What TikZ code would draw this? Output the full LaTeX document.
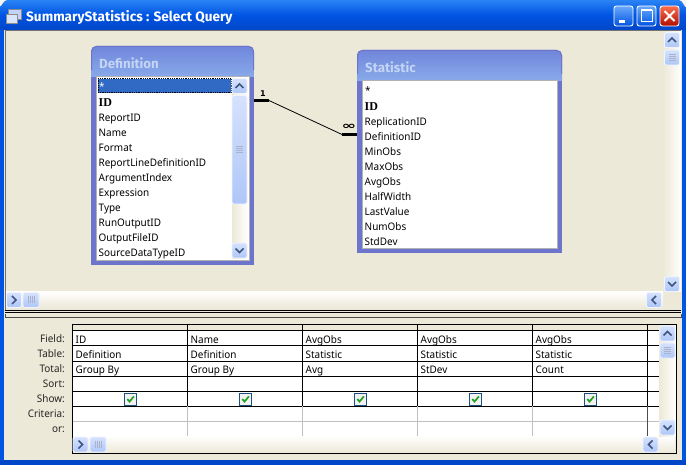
\documentclass[tikz,border=0pt]{standalone}
\usepackage{fontspec}
\setmainfont{Noto Sans}[FakeStretch=0.955]
\newfontfamily\titlefont{Fira Sans}
\newfontfamily\symfont{DejaVu Sans}
\newfontfamily\idfont{Liberation Serif}
\usetikzlibrary{calc}
\definecolor{face}{HTML}{ECE9D8}
\definecolor{xpblue}{HTML}{0054E3}
\definecolor{xpdark}{HTML}{0046C8}
\definecolor{xplight}{HTML}{2A83F5}
\definecolor{tbl}{HTML}{6C74CC}
\definecolor{tbllight}{HTML}{88AAEA}
\definecolor{tblmid}{HTML}{7086DA}
\definecolor{tbltext}{HTML}{C4D4F4}
\definecolor{sel}{HTML}{316AC5}
\definecolor{btnedge}{HTML}{F0F4FF}
\definecolor{btntop}{HTML}{D6E2FD}
\definecolor{btnbot}{HTML}{AEC6F8}
\definecolor{chev}{HTML}{3F5580}
\definecolor{trk}{HTML}{F7F6F1}
\definecolor{gridgray}{HTML}{C0C0C0}
\definecolor{chkbd}{HTML}{1C5180}
\definecolor{chk}{HTML}{21A121}
\tikzset{
  x=1pt,y=-1pt,
  txt/.style={inner sep=0pt,anchor=base west,yshift=-0.8pt,font=\fontsize{10.4}{12}\selectfont,text=black},
  lbl/.style={inner sep=0pt,anchor=base east,yshift=-0.8pt,font=\fontsize{10.4}{12}\selectfont,text=black!85},
  ttl/.style={inner sep=0pt,anchor=base west,yshift=-0.8pt,font=\titlefont\bfseries\fontsize{13.3}{14}\selectfont,text=tbltext},
  idtxt/.style={txt,font=\idfont\bfseries\fontsize{12}{12}\selectfont},
  relthick/.style={line width=2.6pt,black},
  relthin/.style={line width=0.8pt,black},
  card/.style={inner sep=0pt,font=\symfont\bfseries\fontsize{8}{9}\selectfont,text=black},
  gridline/.style={line width=1pt,black},
  softline/.style={line width=1pt,gridgray},
  chevron/.style={line width=1.7pt,chev,line cap=butt,line join=miter},
  btnbox/.style={draw=btnedge,line width=.8pt,rounded corners=1.5pt,top color=btntop,bottom color=btnbot},
}
\newcommand{\sbtn}[3]{%
  \path[btnbox] (#1-7.5,#2-7.5) rectangle (#1+7.5,#2+7.5);
  \draw[chevron,rotate around={#3:(#1,#2)}] (#1-4,#2+2) -- (#1,#2-2) -- (#1+4,#2+2);
}
\newcommand{\sthumbv}[4]{%
  \path[btnbox] (#1-#3,#2-#4) rectangle (#1+#3,#2+#4);
  \foreach \d in {-3,-1,1,3} \draw[line width=.7pt,chev!45!white] (#1-3.5,#2+\d) -- (#1+3.5,#2+\d);
}
\newcommand{\sthumbh}[4]{%
  \path[btnbox] (#1-#3,#2-#4) rectangle (#1+#3,#2+#4);
  \foreach \d in {-3,-1,1,3} \draw[line width=.7pt,chev!45!white] (#1+\d,#2-3.5) -- (#1+\d,#2+3.5);
}
\newcommand{\chkbox}[1]{%
  \path[draw=chkbd,line width=1pt,fill=white!90!gray] (#1-6,393) rectangle (#1+6,405.5);
  \draw[chk,line width=1.7pt] (#1-3.2,399) -- (#1-1,401.6) -- (#1+3.4,396.4);
}
\begin{document}
\begin{tikzpicture}
\useasboundingbox (0,0) rectangle (686,465);
% window frame
\fill[white!92!gray] (0,0) rectangle (686,465);
\path[top color=xplight,bottom color=xpdark,middle color=xpblue] (0,30) -- (0,6) to[out=-90,in=180] (7,0) -- (679,0) to[out=0,in=-90] (686,7) -- (686,30) -- cycle;
\fill[xpblue] (0,30) rectangle (4,465);
\fill[xpblue] (682,30) rectangle (686,465);
\fill[xpdark] (0,460) rectangle (686,465);
\fill[face] (4,30) rectangle (682,460);
\draw[line width=1pt,black!55] (5,31) -- (681,31);
\draw[line width=1pt,black!55] (5,31) -- (5,310);
% title icon
\node[draw=black!45,fill=white!75!xpblue,minimum width=13pt,minimum height=10pt,inner sep=0pt] (icona) at (14.5,14) {};
\node[draw=black!45,fill=white!85!xpblue,minimum width=11pt,minimum height=9pt,inner sep=0pt] (iconb) at (11.5,19) {};
\node[inner sep=0pt,anchor=base west,text=white,font=\titlefont\bfseries\fontsize{13.6}{14}\selectfont] (wintitle) at (26,22) {SummaryStatistics : Select Query};
% window buttons
\node[draw=white,line width=.9pt,rounded corners=2.5pt,minimum width=19pt,minimum height=20pt,inner sep=0pt,top color=xplight!70!white,bottom color=xpblue] (minbtn) at (623.5,16) {};
\fill[white] (619,20) rectangle (625,23);
\node[draw=white,line width=.9pt,rounded corners=2.5pt,minimum width=19pt,minimum height=20pt,inner sep=0pt,top color=xplight!70!white,bottom color=xpblue] (maxbtn) at (646.5,16) {};
\draw[white,line width=1pt] (641,10.5) rectangle (652,21.5);
\draw[white,line width=2pt] (641,10.5) -- (652,10.5);
\node[draw=white,line width=.9pt,rounded corners=2.5pt,minimum width=19pt,minimum height=20pt,inner sep=0pt,top color=red!60!orange!70!white,bottom color=red!65!black!90!orange] (closebtn) at (669.5,16) {};
\draw[white,line width=2pt] (664.5,11) -- (674.5,21) (674.5,11) -- (664.5,21);
% upper pane scrollbars
\path[left color=face,right color=white!96!face] (663,32) rectangle (681,292);
\path[top color=white!96!face,bottom color=face] (6,292) rectangle (663,308);
\sbtn{672}{40}{0}
\sthumbv{672}{57.5}{7.5}{7.5}
\sbtn{672}{284}{180}
\sbtn{14}{300}{-90}
\sthumbh{31}{300}{8}{7.5}
\sbtn{654}{300}{90}
% splitter
\draw[line width=1pt,black] (5,311) -- (681,311);
\draw[line width=1pt,black] (5,313) -- (681,313);
\draw[line width=1pt,black!70] (5,318) -- (681,318);
\draw[line width=1pt,black!70] (5,314) -- (5,318);
\draw[line width=1pt,black!70] (681,314) -- (681,318);
% Definition table
\fill[tbl] (91,70) rectangle (254,265);
\path[top color=tblmid,bottom color=tbllight,rounded corners=5pt] (91,77) -- (91,46) -- (254,46) -- (254,77);
\draw[tbl,line width=1pt,rounded corners=5pt] (91.5,70) -- (91.5,46.5) -- (253.5,46.5) -- (253.5,70);
\node[ttl] (deftitle) at (99,68) {Definition};
\node[draw=black!30,line width=1pt,fill=white,inner sep=0pt,minimum width=153pt,minimum height=184pt,anchor=north west] (deflist) at (95.5,76.5) {};
\node[draw=black,densely dotted,line width=.8pt,fill=sel,inner sep=0pt,minimum width=133pt,minimum height=14pt,anchor=north west] (defsel) at (97.5,78.5) {};
\node[txt,text=white] (def0) at (99,90) {*};
\node[idtxt] (def1) at (98.5,106) {ID};
\foreach \n/\t/\y in {2/ReportID/121,3/Name/136,4/Format/151,5/ReportLineDefinitionID/166,6/ArgumentIndex/181,7/Expression/196,8/Type/211,9/RunOutputID/226,10/OutputFileID/241,11/SourceDataTypeID/256}
  \node[txt] (def\n) at (98.5,\y) {\t};
\path[left color=face,right color=white] (232,79) rectangle (248,259);
\sbtn{239.5}{86}{0}
\path[btnbox] (232,95.5) rectangle (247,204);
\foreach \d in {-3,-1,1,3} \draw[line width=.7pt,chev!45!white] (236,149.5+\d) -- (243,149.5+\d);
\sbtn{239.5}{250.5}{180}
% Statistic table
\fill[tbl] (357,74) rectangle (562,253.5);
\path[top color=tblmid,bottom color=tbllight,rounded corners=5pt] (357,81) -- (357,50) -- (562,50) -- (562,81);
\draw[tbl,line width=1pt,rounded corners=5pt] (357.5,74) -- (357.5,50.5) -- (561.5,50.5) -- (561.5,74);
\node[ttl] (stattitle) at (365,72) {Statistic};
\node[draw=black!30,line width=1pt,fill=white,inner sep=0pt,minimum width=195pt,minimum height=168pt,anchor=north west] (statlist) at (362,80.5) {};
\node[txt] (stat0) at (365,94) {*};
\node[idtxt] (stat1) at (364.5,110) {ID};
\foreach \n/\t/\y in {2/ReplicationID/125,3/DefinitionID/140,4/MinObs/155,5/MaxObs/170,6/AvgObs/185,7/HalfWidth/200,8/LastValue/215,9/NumObs/230,10/StdDev/245}
  \node[txt] (stat\n) at (364.5,\y) {\t};
% relationship
\coordinate (relA) at (254,100.5);
\coordinate (relB) at (269,100.5);
\coordinate (relC) at (342,134.5);
\coordinate (relD) at (357,134.5);
\draw[relthick] (relA) -- (relB);
\draw[relthin] (relB) -- (relC);
\draw[relthick] (relC) -- (relD);
\node[card] (cardone) at (263,93.5) {1};
\node[card] (cardmany) at (349,127) {\scalebox{1.6}[0.95]{\fontsize{11}{11}\selectfont ∞}};
% grid
\fill[white] (72,331) rectangle (659,436);
\fill[face] (72,324) rectangle (659,331);
\path[top color=white!96!face,bottom color=face] (73,436) rectangle (675,453);
\path[left color=face,right color=white!96!face] (659,324.5) rectangle (675.5,436);
\foreach \y in {331,346,361,376,391,406} \draw[gridline] (72,\y) -- (659,\y);
\draw[softline] (72,421) -- (659,421);
\foreach \x in {187.5,302.5,417.5,532.5} {
  \draw[gridline] (\x,324) -- (\x,406);
  \draw[softline] (\x,406) -- (\x,436);
}
\draw[gridline] (647.5,324) -- (647.5,406);
\draw[line width=1pt,black!70] (647.5,406) -- (647.5,436);
\draw[gridline] (72.5,324.5) rectangle (676.5,453.5);
\foreach \n/\t/\y in {1/Field:/342,2/Table:/357,3/Total:/372,4/Sort:/387,5/Show:/402,6/Criteria:/417,7/or:/432}
  \node[lbl] (row\n) at (65,\y) {\t};
\foreach \c/\x/\a/\b/\d in {1/75.5/ID/Definition/Group By,2/190.5/Name/Definition/Group By,3/305.5/AvgObs/Statistic/Avg,4/420.5/AvgObs/Statistic/StDev,5/535.5/AvgObs/Statistic/Count} {
  \node[txt] (f\c) at (\x,343) {\a};
  \node[txt] (t\c) at (\x,358) {\b};
  \node[txt] (g\c) at (\x,373) {\d};
}
\chkbox{130.5}\chkbox{245.5}\chkbox{360.5}\chkbox{475.5}\chkbox{590.5}
\sbtn{667.5}{333.5}{0}
\sthumbv{667.5}{350.5}{7.5}{7.5}
\sbtn{667.5}{427.5}{180}
\sbtn{80.5}{444.5}{-90}
\sthumbh{98}{444.5}{8}{7.5}
\sbtn{650.5}{444.5}{90}
\end{tikzpicture}
\end{document}
